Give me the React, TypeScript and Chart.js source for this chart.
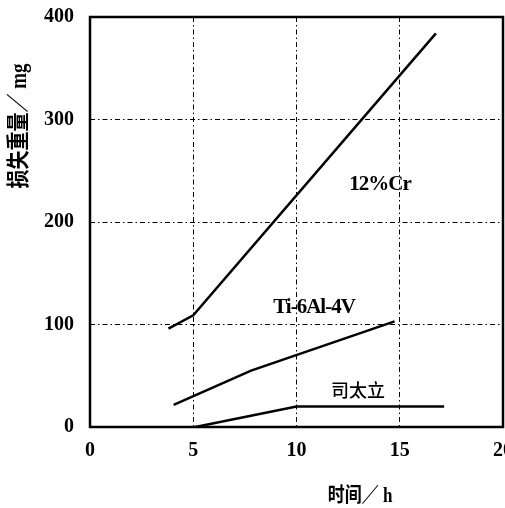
import React, { useEffect, useRef } from "react";
import { Chart, registerables } from "chart.js";

Chart.register(...registerables);

const xTicks = [0, 5, 10, 15, 20];
const yTicks = [0, 100, 200, 300, 400];

const crX = [3.8, 5, 16.75];
const crY = [96, 109, 384];

const tiX = [4.05, 7.8, 14.75];
const tiY = [21.5, 55, 103];

const stX = [5.1, 10, 17.15];
const stY = [0, 20, 20];

const seriesNames = ["12%Cr", "Ti-6Al-4V", "司太立"];
const xTitle = "时间／ h";
const yTitle = "损失重量／ mg";

const toPts = (xs: number[], ys: number[]) => xs.map((x, i) => ({ x, y: ys[i] }));

const serif = "'Liberation Serif', 'Noto Sans CJK SC', serif";

const overlay = {
  id: "overlay",
  afterDraw(chart: any) {
    const { ctx, chartArea: a } = chart;
    ctx.save();
    ctx.strokeStyle = "#000";
    ctx.lineWidth = 2.5;
    ctx.setLineDash([]);
    ctx.strokeRect(a.left, a.top, a.right - a.left, a.bottom - a.top);

    ctx.fillStyle = "#000";
    ctx.textAlign = "center";
    ctx.textBaseline = "middle";

    (ctx as any).letterSpacing = "-1px";
    ctx.font = `bold 21px ${serif}`;
    ctx.fillText(seriesNames[0], 380, 185);
    ctx.fillText(seriesNames[1], 314, 308);
    (ctx as any).letterSpacing = "0px";
    ctx.font = `500 18px 'Noto Sans CJK SC'`;
    ctx.fillText(seriesNames[2], 358, 390);

    // y title
    ctx.save();
    ctx.translate(20, 126);
    ctx.rotate(-Math.PI / 2);
    ctx.scale(1, 1.2);
    ctx.font = `bold 19px ${serif}`;
    ctx.fillText(yTitle, 0, 0);
    ctx.restore();

    // x title
    ctx.save();
    ctx.translate(360, 497);
    ctx.scale(1, 1.2);
    ctx.font = `bold 17px ${serif}`;
    ctx.fillText(xTitle, 0, 0);
    ctx.restore();

    ctx.restore();
  },
};

export default function App() {
  const ref = useRef<HTMLCanvasElement | null>(null);
  useEffect(() => {
    document.body.style.margin = "0";
    document.body.style.overflow = "hidden";
    const line = (data: any) => ({
      data,
      borderColor: "#000",
      borderWidth: 2.5,
      pointRadius: 0,
      showLine: true,
      fill: false,
      tension: 0,
    });
    const chart = new Chart(ref.current!, {
      type: "scatter",
      data: {
        datasets: [line(toPts(crX, crY)), line(toPts(tiX, tiY)), line(toPts(stX, stY))],
      },
      options: {
        animation: false,
        responsive: false,
        devicePixelRatio: 1,
        layout: { autoPadding: false, padding: { top: 17, right: 17, left: 0, bottom: 0 } },
        plugins: { legend: { display: false }, tooltip: { enabled: false } },
        scales: {
          x: {
            type: "linear",
            min: 0,
            max: 20,
            afterBuildTicks: (s: any) => {
              s.ticks = xTicks.map((v) => ({ value: v }));
            },
            afterFit: (s: any) => {
              s.height = 81;
              s.paddingLeft = 0;
              s.paddingRight = 0;
            },
            grid: { color: "#000", lineWidth: 1, drawTicks: false },
            border: { display: false, dash: [5, 3, 1.5, 3] },
            ticks: {
              color: "#000",
              padding: 12,
              maxRotation: 0,
              autoSkip: false,
              font: { family: "'Liberation Serif'", weight: "bold", size: 20 },
            },
          },
          y: {
            type: "linear",
            min: 0,
            max: 400,
            afterBuildTicks: (s: any) => {
              s.ticks = yTicks.map((v) => ({ value: v }));
            },
            afterFit: (s: any) => {
              s.width = 90;
              s.paddingTop = 0;
              s.paddingBottom = 0;
            },
            grid: { color: "#000", lineWidth: 1, drawTicks: false },
            border: { display: false, dash: [5, 3, 1.5, 3] },
            ticks: {
              color: "#000",
              padding: 16,
              autoSkip: false,
              font: { family: "'Liberation Serif'", weight: "bold", size: 20 },
            },
          },
        },
      },
      plugins: [overlay],
    });
    return () => chart.destroy();
  }, []);
  return (
    <div style={{ width: 505, height: 508, overflow: "hidden", background: "#fff" }}>
      <canvas ref={ref} width={520} height={508} style={{ display: "block" }} />
    </div>
  );
}
